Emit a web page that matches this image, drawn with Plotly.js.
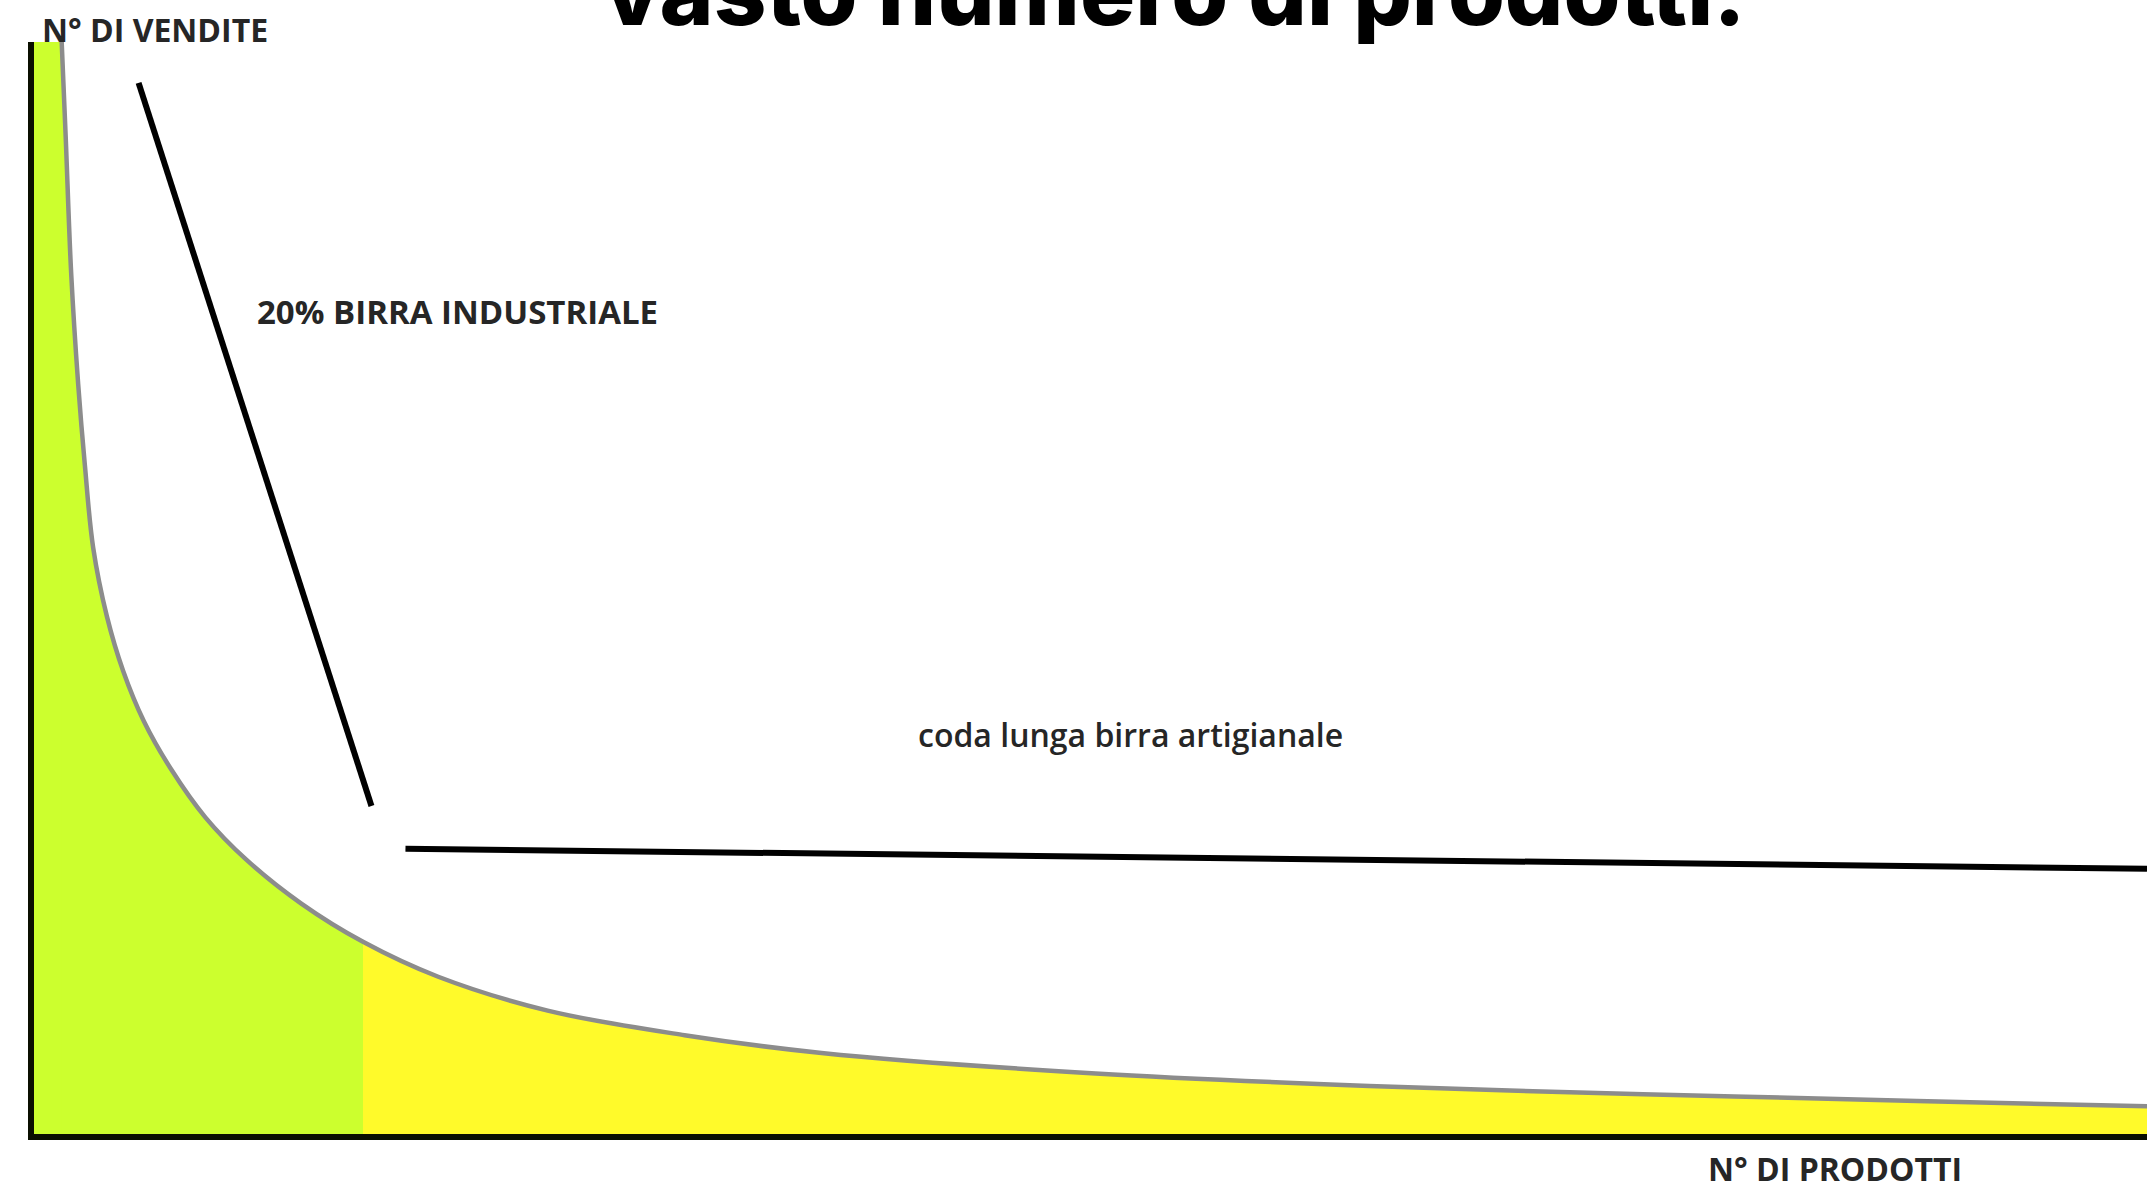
<!DOCTYPE html>
<html>
<head>
<meta charset="utf-8">
<script src="https://cdn.plot.ly/plotly-3.0.1.min.js"></script>
<style>
  html, body { margin: 0; padding: 0; background: #ffffff; }
  #chart { width: 2147px; height: 1189px; }
</style>
</head>
<body>
<div id="chart"></div>
<script>
// Long-tail curve: N° di prodotti (x) vs N° di vendite (y), arbitrary units 0-100
const prodotti = [1.31, 1.50, 1.76, 2.09, 2.41, 2.80, 3.45, 4.22, 5.20, 6.49, 8.11, 10.06, 12.65, 15.57, 19.13, 24.31, 30.79, 37.27, 50.24, 63.19, 76.16, 89.11, 100];
const vendite  = [100, 91.3, 78.8, 68.7, 61.2, 53.7, 47.4, 42.4, 37.8, 33.4, 29.0, 25.1, 21.1, 17.6, 14.4, 11.3, 9.05, 7.42, 5.54, 4.40, 3.65, 3.03, 2.53];
// index of the point where the 20% (industrial) head ends
const splitIndex = 13;

// pointer lines
const lineaIndustrialeX = [4.95, 15.97];
const lineaIndustrialeY = [96.25, 30.04];
const lineaCodaX = [17.58, 100];
const lineaCodaY = [26.12, 24.29];

// texts
const titolo = 'vasto numero di prodotti.';
const etichettaY = 'N° DI VENDITE';
const etichettaX = 'N° DI PRODOTTI';
const etichettaTesta = '20% BIRRA INDUSTRIALE';
const etichettaCoda = 'coda lunga birra artigianale';

const headX = prodotti.slice(0, splitIndex + 1);
const headY = vendite.slice(0, splitIndex + 1);
const tailX = prodotti.slice(splitIndex);
const tailY = vendite.slice(splitIndex);

const GREEN = '#CCFF2E';
const YELLOW = '#FFFA2A';

const traces = [
  // strip between the axis and the first point of the curve
  { x: [prodotti[0] / 2], y: [vendite[0]], width: [prodotti[0]], type: 'bar',
    marker: { color: GREEN, line: { width: 0 } }, hoverinfo: 'skip' },
  { x: headX, y: headY, type: 'scatter', mode: 'lines', fill: 'tozeroy',
    fillcolor: GREEN, line: { width: 0, shape: 'spline', color: 'rgba(0,0,0,0)' }, hoverinfo: 'skip' },
  { x: tailX, y: tailY, type: 'scatter', mode: 'lines', fill: 'tozeroy',
    fillcolor: YELLOW, line: { width: 0, shape: 'spline', color: 'rgba(0,0,0,0)' }, hoverinfo: 'skip' },
  { x: prodotti, y: vendite, type: 'scatter', mode: 'lines',
    line: { width: 4.5, shape: 'spline', color: '#8C8C8C' }, hoverinfo: 'skip' },
  { x: lineaIndustrialeX, y: lineaIndustrialeY, type: 'scatter', mode: 'lines',
    line: { width: 6, color: '#000000' }, hoverinfo: 'skip' },
  { x: lineaCodaX, y: lineaCodaY, type: 'scatter', mode: 'lines',
    line: { width: 6, color: '#000000' }, hoverinfo: 'skip' }
];

const labelFont = { family: 'Open Sans, sans-serif', size: 32, color: '#262626', weight: 700 };

const layout = {
  width: 2147, height: 1189,
  margin: { l: 34, r: 0, t: 42, b: 55, pad: 0 },
  paper_bgcolor: '#ffffff', plot_bgcolor: '#ffffff',
  showlegend: false,
  bargap: 0,
  xaxis: { range: [0, 100], showgrid: false, zeroline: false, showticklabels: false, ticks: '',
           showline: true, linecolor: '#0a0f00', linewidth: 6, fixedrange: true },
  yaxis: { range: [0, 100], showgrid: false, zeroline: false, showticklabels: false, ticks: '',
           showline: true, linecolor: '#0a0f00', linewidth: 6, fixedrange: true },
  annotations: [
    { text: titolo, xref: 'paper', yref: 'paper', x: 0.540, y: 1, xanchor: 'center', yanchor: 'bottom', yshift: -7,
      showarrow: false, font: { family: 'Inter, sans-serif', size: 92, color: '#000000', weight: 800 } },
    { text: etichettaY, xref: 'paper', yref: 'paper', x: 0.0030, y: 1.0, xanchor: 'left', yanchor: 'middle', yshift: 13,
      showarrow: false, font: labelFont },
    { text: etichettaTesta, xref: 'paper', yref: 'paper', x: 0.1045, y: 0.7530, xanchor: 'left', yanchor: 'middle',
      showarrow: false, font: { family: 'Open Sans, sans-serif', size: 33, color: '#262626', weight: 700 } },
    { text: etichettaCoda, xref: 'paper', yref: 'paper', x: 0.4175, y: 0.3654, xanchor: 'left', yanchor: 'middle',
      showarrow: false, font: { family: 'Open Sans, sans-serif', size: 32, color: '#262626', weight: 600 } },
    { text: etichettaX, xref: 'paper', yref: 'paper', x: 0.7915, y: -0.0348, xanchor: 'left', yanchor: 'middle', yshift: 4,
      showarrow: false, font: labelFont }
  ]
};

Plotly.newPlot('chart', traces, layout, { staticPlot: true, displayModeBar: false });
</script>
</body>
</html>
